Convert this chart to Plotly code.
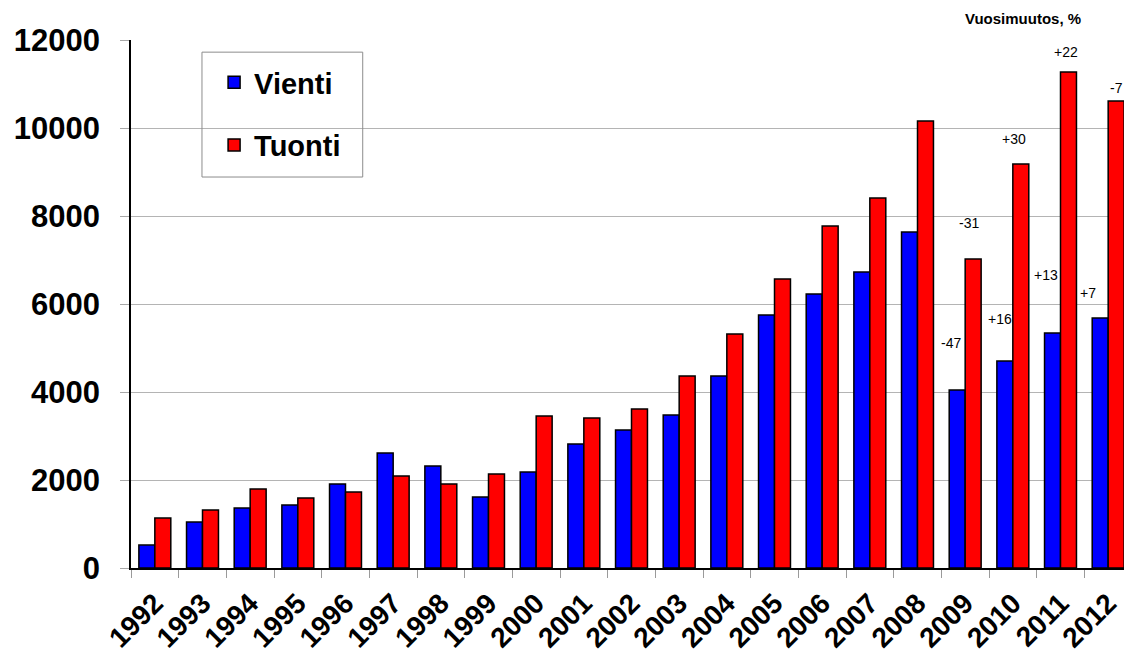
import plotly.graph_objects as go

years = [str(y) for y in range(1992, 2013)]
vienti = [520, 1045, 1365, 1430, 1910, 2615, 2320, 1615, 2180, 2820, 3135, 3475, 4365,
          5750, 6225, 6725, 7635, 4045, 4705, 5340, 5680]
tuonti = [1135, 1320, 1795, 1590, 1725, 2090, 1910, 2135, 3455, 3410, 3615, 4365, 5320,
          6570, 7775, 8410, 10160, 7025, 9180, 11275, 10615]

# year-on-year change labels (%)
chg_years = ["2009", "2010", "2011", "2012"]
chg_vienti = ["-47", "+16", "+13", "+7"]
chg_tuonti = ["-31", "+30", "+22", "-7"]

y_ticks = [0, 2000, 4000, 6000, 8000, 10000, 12000]

FONT = "Arial, 'Liberation Sans', sans-serif"

fig = go.Figure()
fig.add_trace(go.Bar(x=years, y=vienti, name="Vienti", legendgroup="v",
                     marker=dict(color="#0000FF", line=dict(color="#000000", width=1.5))))
fig.add_trace(go.Bar(x=years, y=tuonti, name="Tuonti", legendgroup="t",
                     marker=dict(color="#FF0000", line=dict(color="#000000", width=1.5))))

# annotations for yearly change (x given as category index)
v_shift = [(-14, 47), (-13, 42), (-15, 58), (-20, 25)]
t_shift = [(4, 36), (1, 25), (5, 20), (8, 13)]
for i, yr in enumerate(chg_years):
    idx = years.index(yr)
    fig.add_annotation(x=idx, y=vienti[idx], text=chg_vienti[i], showarrow=False,
                       xshift=v_shift[i][0], yshift=v_shift[i][1],
                       font=dict(family=FONT, size=14, color="#000000"))
    fig.add_annotation(x=idx, y=tuonti[idx], text=chg_tuonti[i], showarrow=False,
                       xshift=t_shift[i][0], yshift=t_shift[i][1],
                       font=dict(family=FONT, size=14, color="#000000"))

fig.add_annotation(xref="paper", yref="paper", x=0.891, y=1.0, yshift=22,
                   xanchor="center", yanchor="middle",
                   text="Vuosimuutos, %", showarrow=False,
                   font=dict(family=FONT, size=15, color="#000000", weight="bold"))

# legend frame
fig.add_shape(type="rect", xref="paper", yref="paper",
              x0=0.0709, x1=0.2315, y0=0.7405, y1=0.977,
              line=dict(color="#8c8c8c", width=1), fillcolor="rgba(0,0,0,0)", layer="above")

fig.update_layout(
    width=1124, height=656,
    margin=dict(l=123, r=0, t=32, b=96),
    paper_bgcolor="#FFFFFF", plot_bgcolor="#FFFFFF",
    barmode="group", bargap=0.33, bargroupgap=0,
    font=dict(family=FONT, color="#000000"),
    legend=dict(x=0.083, y=0.968, xanchor="left", yanchor="top",
                bgcolor="rgba(0,0,0,0)", borderwidth=0,
                traceorder="grouped", tracegroupgap=22,
                font=dict(family=FONT, size=29, color="#000000", weight="bold")),
    xaxis=dict(type="category", tickangle=-45, tickson="boundaries",
               ticks="outside", ticklen=8, tickcolor="#9a9a9a", tickwidth=1,
               ticklabelstandoff=6,
               showline=True, linecolor="#000000", linewidth=1.5,
               showgrid=False,
               tickfont=dict(family=FONT, size=28, color="#000000", weight="bold")),
    yaxis=dict(range=[0, 12000], tickvals=y_ticks, ticktext=[str(v) for v in y_ticks],
               ticks="outside", ticklen=9, tickcolor="#a8a8a8", tickwidth=1,
               ticklabelstandoff=14,
               showline=True, linecolor="#000000", linewidth=1.5,
               showgrid=True, gridcolor="#b4b4b4", gridwidth=1,
               zeroline=False,
               tickfont=dict(family=FONT, size=31, color="#000000", weight="bold")),
)

fig.write_html("out.html")
